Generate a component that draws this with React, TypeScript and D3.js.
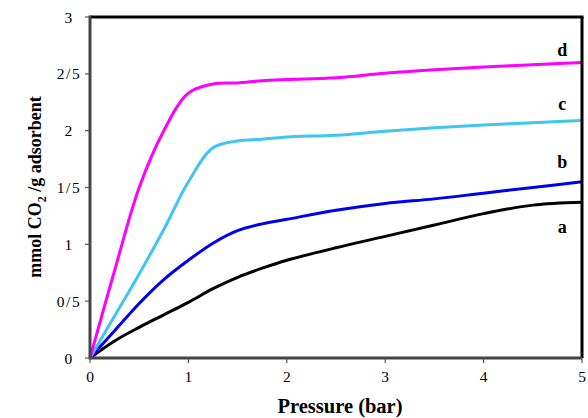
import React from 'react'
import * as d3 from 'd3'

// pressure readings (bar) shared by all four isotherms
const pressure = [0, 0.25, 0.5, 0.75, 1, 1.25, 1.5, 1.75, 2, 2.5, 3, 3.5, 4, 4.5, 5]

// uptake, mmol CO2 / g adsorbent
const seriesA = [0, 0.15, 0.27, 0.38, 0.49, 0.61, 0.71, 0.79, 0.86, 0.97, 1.07, 1.17, 1.27, 1.345, 1.37]
const seriesB = [0, 0.24, 0.48, 0.69, 0.86, 1.01, 1.12, 1.18, 1.22, 1.3, 1.36, 1.4, 1.45, 1.5, 1.55]
const seriesC = [0, 0.37, 0.74, 1.13, 1.55, 1.85, 1.91, 1.925, 1.945, 1.96, 1.995, 2.025, 2.05, 2.07, 2.09]
const seriesD = [0, 0.77, 1.5, 2.0, 2.33, 2.41, 2.42, 2.44, 2.45, 2.465, 2.505, 2.535, 2.56, 2.58, 2.6]

const seriesNames = ['a', 'b', 'c', 'd']
const seriesColors = ['#000000', '#0000ee', '#40c4f0', '#ff00ff']
// where the letter sits, in data units
const labelX = 4.8
const labelY = [1.1, 1.67, 2.18, 2.66]

const xTicks = [0, 1, 2, 3, 4, 5]
const xTickLabels = ['0', '1', '2', '3', '4', '5']
const yTicks = [0, 0.5, 1, 1.5, 2, 2.5, 3]
const yTickLabels = ['0', '0/5', '1', '1/5', '2', '2/5', '3']

const W = 588
const H = 418
const serif = '"Liberation Serif", "Times New Roman", serif'

export default function App() {
  const x = d3.scaleLinear().domain([0, 5]).range([90, 582])
  const y = d3.scaleLinear().domain([0, 3]).range([358, 17])

  const all = [seriesA, seriesB, seriesC, seriesD]
  const line = d3
    .line<number>()
    .x((_, i) => x(pressure[i]))
    .y(v => y(v))
    .curve(d3.curveCatmullRom.alpha(0.5))

  return (
    <svg width={W} height={H} style={{ position: 'absolute', left: 0, top: 0 }} fontFamily={serif}>
      <rect width={W} height={H} fill="#fff" />

      {/* curves */}
      {all.map((s, i) => (
        <path key={i} d={line(s) || ''} fill="none" stroke={seriesColors[i]} strokeWidth={3} />
      ))}

      {/* frame: top and right black, axes grey */}
      <line x1={x(0)} x2={x(5) + 1.5} y1={y(3)} y2={y(3)} stroke="#000" strokeWidth={3} />
      <line x1={x(5)} x2={x(5)} y1={y(3)} y2={y(0)} stroke="#000" strokeWidth={3} />
      <line x1={x(0)} x2={x(0)} y1={y(3) - 1.5} y2={y(0) + 1.5} stroke="#444" strokeWidth={3} />
      <line x1={x(0)} x2={x(5)} y1={y(0)} y2={y(0)} stroke="#444" strokeWidth={3} />

      {/* y axis */}
      {yTicks.map((t, i) => (
        <g key={'y' + t}>
          <line x1={x(0) - 5} x2={x(0)} y1={y(t)} y2={y(t)} stroke="#555" strokeWidth={1.2} />
          <text x={69} y={y(t) + 5.5} textAnchor="middle" fontSize={15.5} letterSpacing={1.5}>
            {yTickLabels[i]}
          </text>
        </g>
      ))}

      {/* x axis */}
      {xTicks.map((t, i) => (
        <g key={'x' + t}>
          <line x1={x(t)} x2={x(t)} y1={y(0)} y2={y(0) + 5} stroke="#555" strokeWidth={1.2} />
          <text x={x(t)} y={382} textAnchor="middle" fontSize={15.5}>
            {xTickLabels[i]}
          </text>
        </g>
      ))}

      {/* series letters */}
      {seriesNames.map((n, i) => (
        <text key={n} x={x(labelX)} y={y(labelY[i])} textAnchor="middle" fontSize={18} fontWeight="bold">
          {n}
        </text>
      ))}

      {/* axis titles */}
      <text x={340} y={413} textAnchor="middle" fontSize={20.5} fontWeight="bold">
        Pressure (bar)
      </text>
      <text transform="translate(41,187) rotate(-90)" textAnchor="middle" fontSize={18} fontWeight="bold">
        mmol CO<tspan fontSize={12} dy={5}>2</tspan>
        <tspan dy={-5}> /g adsorbent</tspan>
      </text>
    </svg>
  )
}
